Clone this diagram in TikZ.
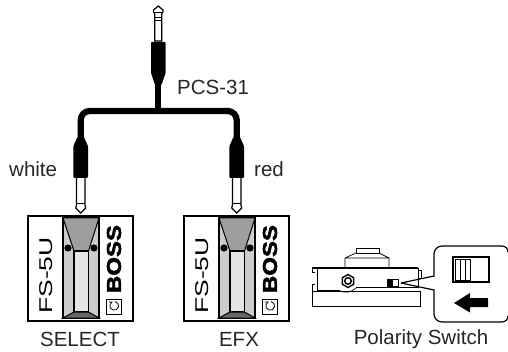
\documentclass[tikz,border=0pt]{standalone}
\usepackage{fontspec}
\setmainfont{Liberation Sans}
\newfontfamily\bossfont[FakeBold=2.2]{Liberation Sans Bold}
\tikzset{
  lbl/.style={inner sep=0pt,font=\fontsize{20.5}{20.5}\selectfont,text=black!85},
  brand/.style={inner sep=0pt,rotate=90},
  ln/.style={draw=black,line width=1pt},
  thin2/.style={draw=black,line width=0.7pt}
}
\newcommand{\pedal}[2]{%
 \begin{scope}[shift={(#1,0)}]
  \draw[line width=1.6pt,fill=white] (28,216) rectangle (133,321);
  \draw[line width=1.6pt,fill=black!20] (63,218) rectangle (99,318);
  \draw[line width=1pt,fill=black!38] (63,218) -- (99,218) -- (88.5,251) -- (74,251) -- cycle;
  \draw[line width=1.1pt,fill=black!10] (74,251) rectangle (88.5,312);
  \draw[line width=1pt,fill=black!60] (63,318) -- (74,312) -- (88.5,312) -- (99,318) -- cycle;
  \fill (68,248) circle (3.6);
  \fill (94,248) circle (3.6);
  \node[brand,font=\fontsize{18.5}{18.5}\selectfont,xscale=1.43] (fs#2) at (46,275.5) {FS-5U};
  \node[brand,font=\fontsize{20}{20}\bossfont,xscale=1.2] (boss#2) at (114,259) {BOSS};
  \draw[line width=0.8pt,fill=white] (106.5,299.5) rectangle (121,314);
  \draw[line width=0.8pt] (108.5,302) -- (112,302) arc[start angle=240,end angle=-80,radius=4.4];
 \end{scope}}
\newcommand{\jackup}[1]{%
 \begin{scope}[shift={(#1,0)}]
  \draw[line width=1.2pt,fill=white] (-3.5,41) -- (-3.5,14) -- (-4.7,12) -- (-4.7,10) -- (0,6) -- (4.7,10) -- (4.7,12) -- (3.5,14) -- (3.5,41) -- cycle;
  \draw[line width=1pt] (-3.5,18) -- (3.5,18) (-3.5,21) -- (3.5,21);
  \draw[line width=1pt] (-4.7,13) -- (4.7,13);
  \fill[rounded corners=1pt] (-7.3,42) -- (7.3,42) -- (7.3,73) -- (3.2,85) -- (-3.2,85) -- (-7.3,73) -- cycle;
 \end{scope}}
\newcommand{\jackdown}[1]{%
 \begin{scope}[shift={(#1,0)}]
  \draw[line width=1.2pt,fill=white] (-4.2,177) -- (-4.2,205) -- (-5,208) -- (0,213) -- (5,208) -- (4.2,205) -- (4.2,177) -- cycle;
  \draw[line width=1pt] (-4.2,204) -- (4.2,204);
  \fill[rounded corners=1pt] (-3.2,137) -- (3.2,137) -- (7.3,146) -- (7.3,178) -- (-7.3,178) -- (-7.3,146) -- cycle;
 \end{scope}}
\begin{document}
\begin{tikzpicture}[x=1pt,y=-1pt]
\useasboundingbox (0,0) rectangle (508,352);
\coordinate (hub) at (158.3,82);
\coordinate (cl) at (80.7,140);
\coordinate (cr) at (236.7,140);
\jackup{158.3}
\jackdown{80.7}
\jackdown{236.7}
\draw[line width=6.2pt,rounded corners=9pt] (cl) -- (cl |- 0,111) -- (cr |- 0,111) -- (cr);
\draw[line width=6.2pt] (hub) -- (hub |- 0,111);
\pedal{0}{a}
\pedal{156}{b}
\node[lbl,anchor=west] (pcs) at (177,87) {PCS-31};
\node[lbl,anchor=west] (white) at (9,169) {white};
\node[lbl,anchor=west] (red) at (254,169) {red};
\node[lbl] (select) at (80,339) {SELECT};
\node[lbl] (efx) at (239,339) {EFX};
\node[lbl] (pol) at (421,339) {Polarity Switch};
% polarity switch
\draw[thin2,fill=white] (356,248) rectangle (379,253);
\draw[thin2] (356,253) -- (345,258) -- (345,268) (379,253) -- (389,258) -- (389,268) (345,258) -- (389,258);
\draw[ln,fill=white] (312,292) rectangle (420,306);
\draw[line width=1.2pt] (312,268) -- (418,268);
\draw[thin2] (312,268) -- (312,272) -- (315,272) (312,292) -- (312,284) -- (315,284);
\draw[line width=1pt] (317,268) -- (317,291) -- (340,291) (356,288) -- (418,288) -- (418,268);
\draw[thin2] (340,291) .. controls (345,293) and (351,293) .. (356,288);
\draw[thin2] (317,291) -- (417,291);
\draw[thin2] (418,278) -- (421,278) -- (421,270) -- (418.5,270);
\draw[line width=1.4pt] (348,274.5) -- (353.6,277.7) -- (353.6,284.3) -- (348,287.5) -- (342.4,284.3) -- (342.4,277.7) -- cycle;
\draw[line width=1.4pt] (348,281) circle (3.3);
\draw[thin2] (387,279) rectangle (398,286);
\fill (387,279) rectangle (393,286);
\draw[line width=1.2pt] (401,283) -- (434,276) -- (434,254) arc[start angle=180,end angle=270,radius=8] -- (502,246) arc[start angle=-90,end angle=0,radius=6];
\draw[line width=1.2pt] (401,283) -- (434,290) -- (434,314) arc[start angle=180,end angle=90,radius=8] -- (502,322) arc[start angle=90,end angle=0,radius=6];
\draw[line width=1.3pt] (453,257) rectangle (489,282);
\draw[line width=0.7pt] (455,259) rectangle (470,280) (460,259) -- (460,280) (465,259) -- (465,280);
\fill (454,303) -- (470,293) -- (470,298) -- (488,298) -- (488,307) -- (470,307) -- (470,312.5) -- cycle;
\end{tikzpicture}
\end{document}
